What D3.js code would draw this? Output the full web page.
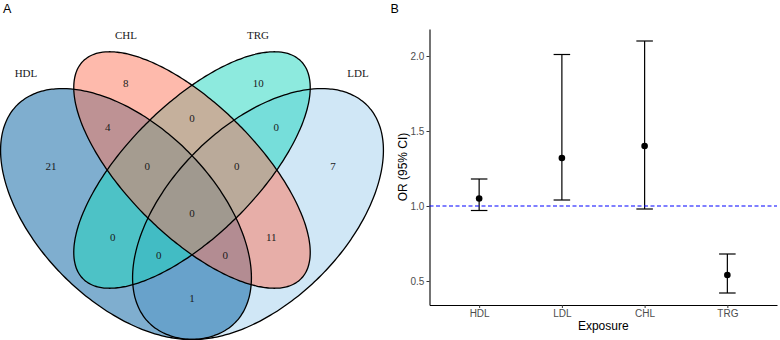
<!DOCTYPE html>
<html>
<head>
<meta charset="utf-8">
<script src="https://cdn.jsdelivr.net/npm/d3@7"></script>
<style>
  body { margin: 0; background: #fff; }
  svg { display: block; }
</style>
</head>
<body>
<div id="chart"></div>
<script>
const width = 780;
const height = 340;

// Panel A data: Venn sets and region counts
const setNames = ["HDL", "CHL", "TRG", "LDL"];
const regionNames = [
  "HDL", "CHL", "TRG", "LDL",
  "HDL&CHL", "CHL&TRG", "TRG&LDL",
  "HDL&CHL&TRG", "CHL&TRG&LDL", "HDL&CHL&TRG&LDL",
  "HDL&TRG", "CHL&LDL", "HDL&TRG&LDL", "HDL&CHL&LDL", "HDL&LDL"
];
const regionCounts = [21, 8, 10, 7, 4, 0, 0, 0, 0, 0, 0, 11, 0, 0, 1];

// Panel B data: odds ratios
const exposures = ["HDL", "LDL", "CHL", "TRG"];
const orValues = [1.05, 1.32, 1.40, 0.54];
const ciLower = [0.97, 1.04, 0.98, 0.42];
const ciUpper = [1.18, 2.01, 2.10, 0.68];
const yTicks = [0.5, 1.0, 1.5, 2.0];

// venn layout (unit square, like the quad venn layout)
const ellipseLayout = {
  HDL: { cx: 0.35, cy: 0.47, a: 0.35, b: 0.2, rot: -45, fill: "#005D9F" },
  CHL: { cx: 0.5, cy: 0.57, a: 0.35, b: 0.148, rot: -45, fill: "#FD765A" },
  TRG: { cx: 0.5, cy: 0.57, a: 0.35, b: 0.148, rot: 45, fill: "#1BD5BD" },
  LDL: { cx: 0.65, cy: 0.47, a: 0.35, b: 0.2, rot: 45, fill: "#A1CFED" }
};
const drawOrder = ["LDL", "HDL", "TRG", "CHL"];
const setLabelPos = {
  HDL: [0.1227, 0.7905], CHL: [0.35, 0.8768], TRG: [0.65, 0.8768], LDL: [0.8773, 0.7905]
};
const regionPos = {
  "HDL": [0.1795, 0.5791], "CHL": [0.3493, 0.7684], "TRG": [0.6507, 0.7684], "LDL": [0.8205, 0.5791],
  "HDL&CHL": [0.3084, 0.6684], "CHL&TRG": [0.5, 0.6875], "TRG&LDL": [0.6916, 0.6684],
  "HDL&CHL&TRG": [0.3984, 0.5791], "CHL&TRG&LDL": [0.6016, 0.5791], "HDL&CHL&TRG&LDL": [0.5, 0.4716],
  "HDL&TRG": [0.3198, 0.4184], "CHL&LDL": [0.6802, 0.4184],
  "HDL&TRG&LDL": [0.4243, 0.3768], "HDL&CHL&LDL": [0.5757, 0.3768], "HDL&LDL": [0.5, 0.2798]
};

const svg = d3.select("#chart")
  .append("svg")
  .attr("width", width)
  .attr("height", height)

svg.append("rect").attr("width", width).attr("height", height).attr("fill", "white")

// ---------- Panel A ----------
const xV = d3.scaleLinear().domain([0, 1]).range([-28, 412])
const yV = d3.scaleLinear().domain([0, 1]).range([420.8, -19.2])

function ellipsePoints(e) {
  const r = e.rot * Math.PI / 180;
  return d3.range(0, 360, 2).map(deg => {
    const t = deg * Math.PI / 180;
    const px = e.cx + e.a * Math.cos(t) * Math.cos(r) - e.b * Math.sin(t) * Math.sin(r);
    const py = e.cy + e.a * Math.cos(t) * Math.sin(r) + e.b * Math.sin(t) * Math.cos(r);
    return [px, py];
  })
}

const ellLine = d3.line()
  .x(d => xV(d[0]))
  .y(d => yV(d[1]))
  .curve(d3.curveCardinalClosed)

const venn = svg.append("g").attr("class", "venn")

venn.selectAll("path.fill")
  .data(drawOrder)
  .join("path")
  .attr("class", "fill")
  .attr("d", d => ellLine(ellipsePoints(ellipseLayout[d])))
  .attr("fill", d => ellipseLayout[d].fill)
  .attr("fill-opacity", 0.5)

venn.selectAll("path.edge")
  .data(drawOrder)
  .join("path")
  .attr("class", "edge")
  .attr("d", d => ellLine(ellipsePoints(ellipseLayout[d])))
  .attr("fill", "none")
  .attr("stroke", "black")
  .attr("stroke-width", 1.3)

venn.selectAll("text.setlabel")
  .data(setNames)
  .join("text")
  .attr("class", "setlabel")
  .attr("x", d => xV(setLabelPos[d][0]))
  .attr("y", d => yV(setLabelPos[d][1]))
  .attr("dy", "0.35em")
  .attr("text-anchor", "middle")
  .attr("font-family", "'Liberation Serif', 'Times New Roman', serif")
  .attr("font-size", 11)
  .attr("fill", "#1a1a1a")
  .text(d => d)

venn.selectAll("text.count")
  .data(regionNames)
  .join("text")
  .attr("class", "count")
  .attr("x", d => xV(regionPos[d][0]))
  .attr("y", d => yV(regionPos[d][1]))
  .attr("dy", "0.35em")
  .attr("text-anchor", "middle")
  .attr("font-family", "'Liberation Serif', 'Times New Roman', serif")
  .attr("font-size", 11)
  .attr("fill", "#1a1a1a")
  .text((d, i) => regionCounts[i])

svg.append("text")
  .attr("x", 3)
  .attr("y", 12.7)
  .attr("font-family", "'Liberation Sans', Arial, sans-serif")
  .attr("font-size", 12.5)
  .text("A")

// ---------- Panel B ----------
const xScale = d3.scalePoint()
  .domain(exposures)
  .range([429.5, 777])
  .padding(0.6)

const yScale = d3.scaleLinear()
  .domain([0.34, 2.18])
  .range([305, 29])

const xAxis = d3.axisBottom(xScale).tickSize(3).tickSizeOuter(0).tickPadding(2.2)
const yAxis = d3.axisLeft(yScale).tickValues(yTicks).tickFormat(d3.format(".1f"))
  .tickSize(3).tickSizeOuter(0).tickPadding(2.2)

const xAxisGroup = svg.append("g")
  .attr("transform", `translate(0, ${305})`)
  .call(xAxis)

const yAxisGroup = svg.append("g")
  .attr("transform", `translate(${429.5}, 0)`)
  .call(yAxis)

for (const g of [xAxisGroup, yAxisGroup]) {
  g.select(".domain").attr("stroke", "black").attr("stroke-width", 1.1)
  g.selectAll(".tick line").attr("stroke", "#333333").attr("stroke-width", 1)
  g.selectAll(".tick text")
    .attr("fill", "#4D4D4D")
    .attr("font-family", "'Liberation Sans', Arial, sans-serif")
    .attr("font-size", 10)
}

const orData = exposures.map((e, i) => ({ e, or: orValues[i], lo: ciLower[i], hi: ciUpper[i] }))
const capHalf = xScale.step() * 0.1

const bars = svg.append("g").attr("class", "errorbars")
bars.selectAll("line.v")
  .data(orData)
  .join("line")
  .attr("class", "v")
  .attr("x1", d => xScale(d.e))
  .attr("x2", d => xScale(d.e))
  .attr("y1", d => yScale(d.lo))
  .attr("y2", d => yScale(d.hi))
  .attr("stroke", "black")
  .attr("stroke-width", 1.2)

bars.selectAll("line.hi")
  .data(orData)
  .join("line")
  .attr("class", "hi")
  .attr("x1", d => xScale(d.e) - capHalf)
  .attr("x2", d => xScale(d.e) + capHalf)
  .attr("y1", d => yScale(d.hi))
  .attr("y2", d => yScale(d.hi))
  .attr("stroke", "black")
  .attr("stroke-width", 1.2)

bars.selectAll("line.lo")
  .data(orData)
  .join("line")
  .attr("class", "lo")
  .attr("x1", d => xScale(d.e) - capHalf)
  .attr("x2", d => xScale(d.e) + capHalf)
  .attr("y1", d => yScale(d.lo))
  .attr("y2", d => yScale(d.lo))
  .attr("stroke", "black")
  .attr("stroke-width", 1.2)

svg.append("line")
  .attr("x1", 429.5)
  .attr("x2", 777)
  .attr("y1", yScale(1))
  .attr("y2", yScale(1))
  .attr("stroke", "#0000FF")
  .attr("stroke-width", 1.1)
  .attr("stroke-dasharray", "4,2.5")

svg.append("g").selectAll("circle")
  .data(orData)
  .join("circle")
  .attr("cx", d => xScale(d.e))
  .attr("cy", d => yScale(d.or))
  .attr("r", 3.3)
  .attr("fill", "black")

svg.append("text")
  .attr("x", (429.5 + 777) / 2)
  .attr("y", 329.5)
  .attr("text-anchor", "middle")
  .attr("font-family", "'Liberation Sans', Arial, sans-serif")
  .attr("font-size", 12)
  .text("Exposure")

svg.append("text")
  .attr("transform", `translate(${406.5}, ${(29 + 305) / 2})rotate(-90)`)
  .attr("text-anchor", "middle")
  .attr("font-family", "'Liberation Sans', Arial, sans-serif")
  .attr("font-size", 12)
  .text("OR (95% CI)")

svg.append("text")
  .attr("x", 390.5)
  .attr("y", 12.7)
  .attr("font-family", "'Liberation Sans', Arial, sans-serif")
  .attr("font-size", 12.5)
  .text("B")
</script>
</body>
</html>
